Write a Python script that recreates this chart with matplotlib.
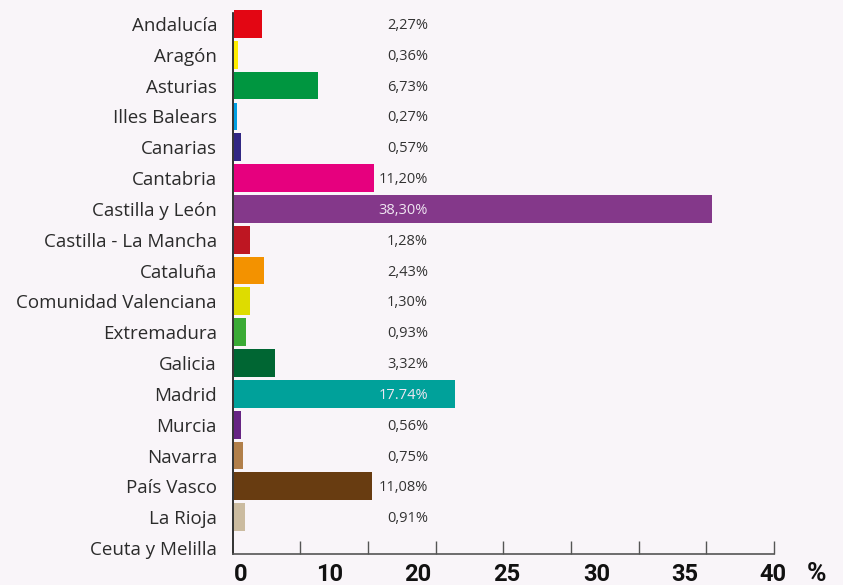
import matplotlib
matplotlib.use("Agg")
import matplotlib.pyplot as plt

# ---- data ----
regions = ["Andalucía", "Aragón", "Asturias", "Illes Balears", "Canarias", "Cantabria",
           "Castilla y León", "Castilla - La Mancha", "Cataluña", "Comunidad Valenciana",
           "Extremadura", "Galicia", "Madrid", "Murcia", "Navarra", "País Vasco",
           "La Rioja", "Ceuta y Melilla"]
values = [2.27, 0.36, 6.73, 0.27, 0.57, 11.20, 38.30, 1.28, 2.43, 1.30,
          0.93, 3.32, 17.74, 0.56, 0.75, 11.08, 0.91, 0.0]
value_labels = ["2,27%", "0,36%", "6,73%", "0,27%", "0,57%", "11,20%", "38,30%", "1,28%",
                "2,43%", "1,30%", "0,93%", "3,32%", "17.74%", "0,56%", "0,75%", "11,08%",
                "0,91%", ""]
colors = ["#E30613", "#FFED00", "#009640", "#009FE3", "#312783", "#E6007E", "#84388A",
          "#BE1622", "#F39200", "#DEDC00", "#3AAA35", "#006633", "#00A19A", "#662483",
          "#B17F4A", "#683C11", "#CBBBA0", "#FFFFFF"]
x_tick_labels = ["0", "10", "20", "25", "30", "35", "40"]

# ---- layout ----
W, H = 843, 585
BG = "#F9F5F9"
px_per_unit = 12.48
zero_px = 234.0
ax_left_px, ax_right_px = 232.7, 774.0
ax_top_px, ax_bot_px = 12.7, 554.3

fig = plt.figure(figsize=(W / 100, H / 100), dpi=100, facecolor=BG)
ax = fig.add_axes([ax_left_px / W, 1 - ax_bot_px / H,
                   (ax_right_px - ax_left_px) / W, (ax_bot_px - ax_top_px) / H])
ax.set_facecolor(BG)

def px2x(px):
    return (px - zero_px) / px_per_unit

row_pitch = 30.83
first_center_px = 23.9
ax.set_xlim(px2x(ax_left_px), px2x(ax_right_px))
ax.set_ylim((ax_bot_px - first_center_px) / row_pitch, (ax_top_px - first_center_px) / row_pitch)

ypos = list(range(len(regions)))
bars = ax.barh(ypos, values, height=0.9, color=colors, clip_on=False, zorder=2)
bars[-1].set_visible(False)

label_font = "Open Sans"
# value labels
val_x = px2x(428)
for i, (v, lab) in enumerate(zip(values, value_labels)):
    if not lab:
        continue
    c = "#F0E6F2" if v > 15 else "#333333"
    ax.text(val_x, i + 0.05, lab, ha="right", va="center", fontsize=10.5,
            family=label_font, color=c, zorder=3)

# category labels
ax.set_yticks(ypos)
ax.set_yticklabels(regions, family=label_font, fontsize=13.5, color="#2b2b2b")
ax.tick_params(axis="y", length=0, pad=(ax_left_px - 217) * 0.72)

# x axis: major ticks (marks only), minor ticks (labels only)
tick_px = [ax_left_px + 67.66 * k for k in range(1, 9)]
ax.set_xticks([px2x(p) for p in tick_px])
ax.set_xticklabels([])
ax.tick_params(axis="x", which="major", direction="in", length=9.5, width=1.0, color="#555555")
lab_px = [240.7, 330, 418, 506.7, 596.7, 685, 773.3]
ax.set_xticks([px2x(p) for p in lab_px], minor=True)
ax.set_xticklabels(x_tick_labels, minor=True, family="Roboto",
                   fontsize=17, fontweight="bold", color="#111111")
ax.tick_params(axis="x", which="minor", length=0, pad=6)

fig.text(816.7 / W, 1 - 574 / H, "%", ha="center", va="center",
         family="Roboto", fontsize=19, fontweight="bold", color="#111111")

for s in ["top", "right"]:
    ax.spines[s].set_visible(False)
ax.spines["left"].set_color("#111111")
ax.spines["left"].set_linewidth(1.2)
ax.spines["bottom"].set_color("#555555")
ax.spines["bottom"].set_linewidth(1.2)

fig.savefig("out.png", dpi=100, facecolor=BG)
